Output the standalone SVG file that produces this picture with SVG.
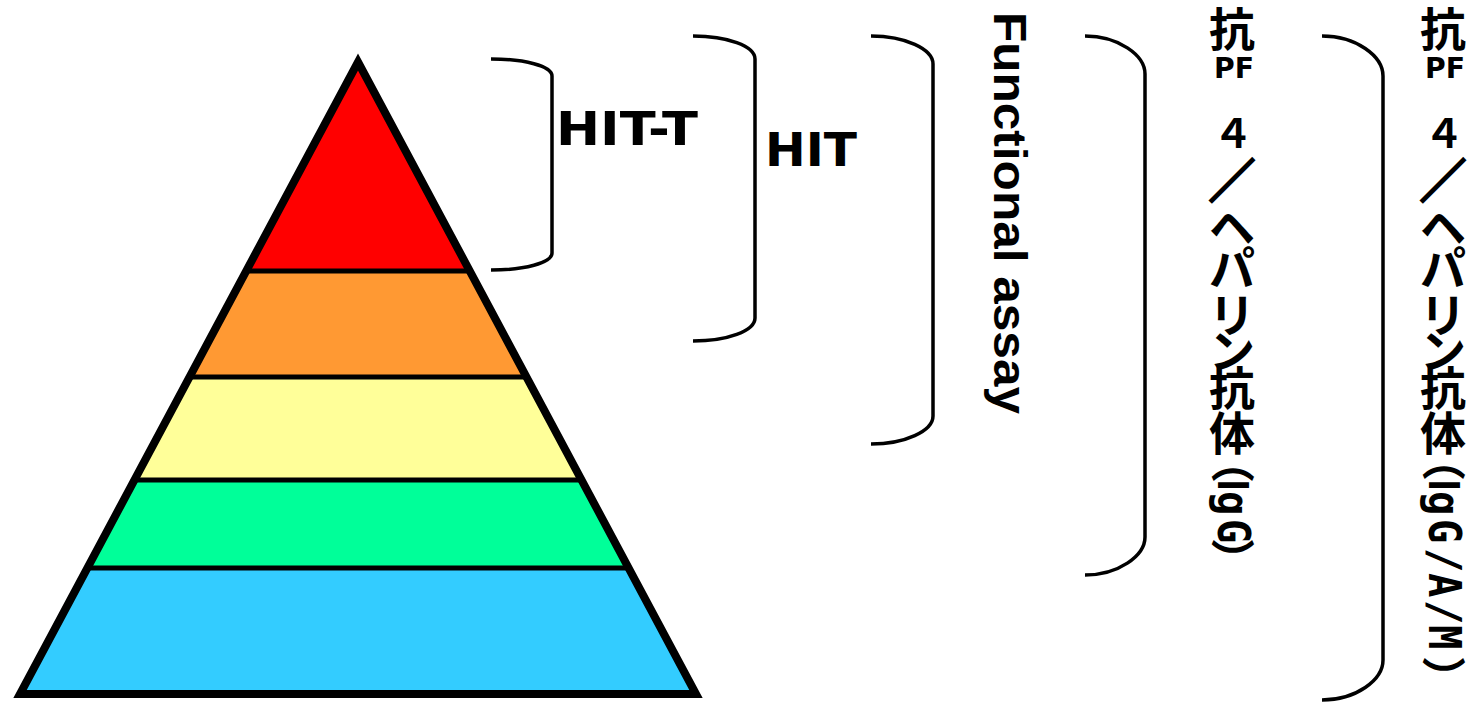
<svg xmlns="http://www.w3.org/2000/svg" width="1470" height="704" viewBox="0 0 1470 704">
<style>
.sep{stroke:#000;stroke-width:5;fill:none}
.outline{fill:none;stroke:#000;stroke-width:8;stroke-linejoin:miter;stroke-miterlimit:10}
.brk{fill:none;stroke:#000;stroke-width:3.5}
.lbl{font-family:"DejaVu Sans","Liberation Sans",sans-serif;font-weight:bold;font-size:47px;fill:#000}
.fa{font-family:"Liberation Sans",Arial,sans-serif;font-weight:bold;font-size:46px;fill:#000}
.cjk{font-family:"Noto Sans CJK JP",sans-serif;font-weight:bold;font-size:46px;text-anchor:middle;fill:#000}
.pf{font-family:"DejaVu Sans","Liberation Sans",sans-serif;font-weight:bold;font-size:29px;fill:#000}
.sl{stroke:#000;stroke-width:2.5}
.cjkr{font-family:"Noto Sans CJK JP",sans-serif;font-weight:bold;font-size:44px;fill:#000}
.lat{font-family:"DejaVu Sans Mono","Liberation Mono",monospace;font-weight:bold;font-size:45px;fill:#000}
.i{font-family:"Liberation Sans",Arial,sans-serif}
</style>
<rect width="1470" height="704" fill="#fff"/>
<g id="pyramid">
  <polygon id="tier-1" points="358,62 469.8,271 246.2,271" fill="#FF0000"/>
  <polygon id="tier-2" points="246.2,271 469.8,271 526.5,377 189.5,377" fill="#FF9933"/>
  <polygon id="tier-3" points="189.5,377 526.5,377 581.5,480 134.5,480" fill="#FFFF99"/>
  <polygon id="tier-4" points="134.5,480 581.5,480 628.6,568 87.4,568" fill="#00FF99"/>
  <polygon id="tier-5" points="87.4,568 628.6,568 696,694 20,694" fill="#33CCFF"/>
  <g id="separators">
    <line class="sep" x1="246" y1="271" x2="470" y2="271"/>
    <line class="sep" x1="189" y1="377" x2="527" y2="377"/>
    <line class="sep" x1="134" y1="480" x2="582" y2="480"/>
    <line class="sep" x1="87" y1="568" x2="629" y2="568"/>
  </g>
  <polygon class="outline" points="358,62 696,694 20,694"/>
</g>
<g id="brackets">
  <path id="br-hitt" class="brk" d="M491,59 C524,59 552,66 552,76 L552,253 C552,263 524,270 491,270"/>
  <path id="br-hit" class="brk" d="M693,36 C727,36 755,46 755,59 L755,318 C755,331 727,341 693,341"/>
  <path id="br-fa" class="brk" d="M871,36 C905,36 933,49 933,64 L933,416 C933,431 905,444 871,444"/>
  <path id="br-igg" class="brk" d="M1085,36 C1118,36 1145,55 1145,74 L1145,537 C1145,556 1118,575 1085,575"/>
  <path id="br-iggam" class="brk" d="M1322,36 C1356,36 1383,56 1383,76 L1383,660 C1383,680 1356,700 1322,700"/>
</g>
<g id="label-hitt"><text class="lbl" x="556" y="145" textLength="142" lengthAdjust="spacingAndGlyphs">HIT-T</text></g>
<g id="label-hit"><text class="lbl" x="765" y="166" textLength="92" lengthAdjust="spacingAndGlyphs">HIT</text></g>
<g id="label-fa"><text class="fa" transform="translate(994,0) rotate(90)" x="12" y="0" textLength="402" lengthAdjust="spacingAndGlyphs">Functional assay</text></g>
<g id="label-igg">
  <text class="cjk" x="1232" y="46">抗</text>
  <text class="pf" x="1214" y="78" textLength="40" lengthAdjust="spacingAndGlyphs">PF</text>
  <text class="cjk" x="1233" y="148" style="font-size:40px">４</text>
  <text class="cjk"><tspan class="sl" x="1232" y="197">／</tspan><tspan x="1232" y="244">ヘ</tspan><tspan x="1232" y="285">パ</tspan><tspan x="1232" y="332">リ</tspan><tspan x="1232" y="368">ン</tspan><tspan x="1232" y="405">抗</tspan><tspan x="1232" y="450">体</tspan></text>
  <text class="cjkr" transform="translate(1216,439) rotate(90)">（</text>
  <text class="lat" transform="translate(1218,0) rotate(90) scale(0.9,1)" y="0"><tspan class="i" x="532.8">I</tspan><tspan x="545.6 576.7">gG</tspan></text>
  <text class="cjkr" transform="translate(1216,538) rotate(90)">）</text>
</g>
<g id="label-iggam">
  <text class="cjk" x="1443" y="46">抗</text>
  <text class="pf" x="1425" y="78" textLength="40" lengthAdjust="spacingAndGlyphs">PF</text>
  <text class="cjk" x="1444" y="148" style="font-size:40px">４</text>
  <text class="cjk"><tspan class="sl" x="1443" y="197">／</tspan><tspan x="1443" y="244">ヘ</tspan><tspan x="1443" y="285">パ</tspan><tspan x="1443" y="332">リ</tspan><tspan x="1443" y="368">ン</tspan><tspan x="1443" y="405">抗</tspan><tspan x="1443" y="450">体</tspan></text>
  <text class="cjkr" transform="translate(1427,437) rotate(90)">（</text>
  <text class="lat" transform="translate(1429,0) rotate(90) scale(0.9,1)" y="0"><tspan class="i" x="532.8">I</tspan><tspan x="545.6 576.7 608.9 636.7 666.7 694.4">gG/A/M</tspan></text>
  <text class="cjkr" transform="translate(1427,656) rotate(90)">）</text>
</g>
</svg>
